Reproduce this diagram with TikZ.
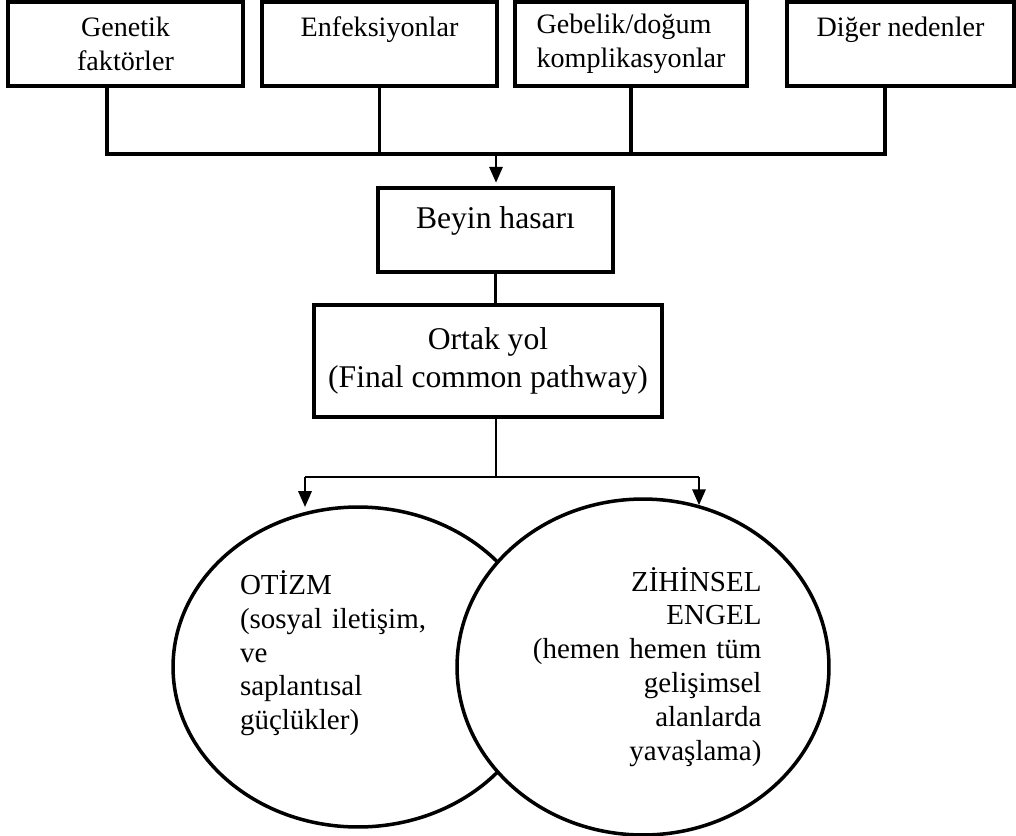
\documentclass[tikz,border=0pt]{standalone}
\usepackage{fontspec}
\setmainfont{Liberation Serif}
\usetikzlibrary{positioning,shapes.geometric,arrows.meta}
\tikzset{
    box/.style={draw, line width=2pt, inner sep=0pt},
    link/.style={line width=1.8pt},
    thin link/.style={line width=0.9pt},
    feed/.style={line width=1.4pt, -{Triangle[length=9pt,width=7.5pt]}}
}

\begin{document}
\begin{tikzpicture}[x=0.02cm,y=-0.02cm]
\tikzstyle{cause}=[box, align=center, minimum width=4.7cm, minimum height=1.68cm, font=\fontsize{16}{19.5}\selectfont]
\tikzstyle{stage}=[box, align=center, font=\fontsize{18}{21.5}\selectfont]
\tikzstyle{result}=[draw, ellipse, line width=2pt, inner sep=0pt, font=\fontsize{16.5}{19.3}\selectfont]

\useasboundingbox (0,0) rectangle (1016,835);

\node[cause] (gen) at (125.5,44) {Genetik\\faktörler};
\node[cause] (inf) at (379.5,44) {Enfeksiyonlar\\~};
\node[cause, align=left, minimum width=4.64cm] (preg) at (631,44) {Gebelik/doğum\\komplikasyonlar};
\node[cause, minimum width=4.54cm] (oth) at (900.5,44) {Diğer nedenler\\~};

\coordinate (join) at (496,154);
\draw[link] ([xshift=-0.37cm]gen.south) |- (join);
\draw[link] ([xshift=-0.31cm]oth.south) |- (join);
\draw[link] (inf.south) -- (inf.south |- join);
\draw[link] (preg.south) -- (preg.south |- join);

\node[stage, minimum width=4.7cm, minimum height=1.68cm, text height=10pt, text depth=12pt] (brain) at (495.5,230) {Beyin hasarı};
\draw[feed, shorten >=2pt] (join) -- (join |- brain.north);

\node[stage, minimum width=6.96cm, minimum height=2.24cm] (common) at (488,361) {Ortak yol\\(Final common pathway)};
\draw[link] (brain.south) -- (brain.south |- common.north);

\coordinate (split) at (496,477);
\coordinate (lsplit) at (305,477);
\coordinate (rsplit) at (699,477);
\draw[thin link] (split |- common.south) -- (split);
\draw[thin link] (lsplit) -- (rsplit);

\node[result, minimum width=7.4cm, minimum height=6.4cm, text width=4.72cm, align=left] (aut) at (358,667) {OTİZM\\(sosyal iletişim,\\ve\\saplantısal\\güçlükler)\\~};
\node[result, fill=white, minimum width=7.44cm, minimum height=6.72cm, text width=4.74cm, align=right] (id) at (643,667) {ZİHİNSEL\\ENGEL\\(hemen hemen tüm\\gelişimsel\\alanlarda\\yavaşlama)};

\draw[feed, shorten >=-1pt] (lsplit) -- (lsplit |- aut.north);
\draw[feed, shorten >=-4.5pt] (rsplit) -- (rsplit |- id.north);
\end{tikzpicture}
\end{document}
